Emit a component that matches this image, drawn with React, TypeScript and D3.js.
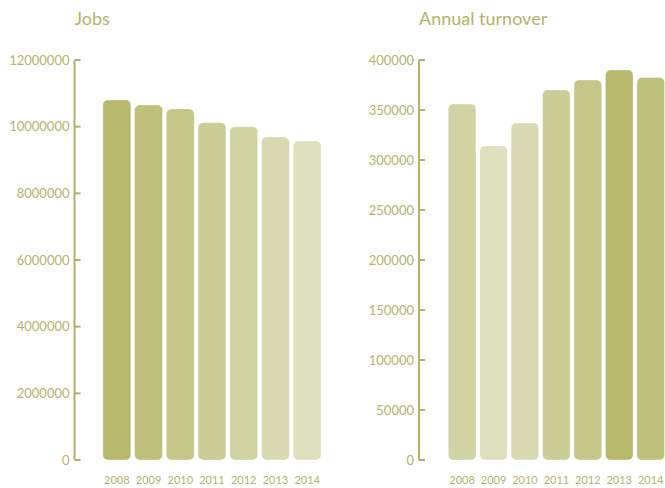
import React from "react";
import * as d3 from "d3";

const years = ["2008", "2009", "2010", "2011", "2012", "2013", "2014"];
const jobs = [10800000, 10650000, 10530000, 10120000, 10000000, 9690000, 9570000];
const turnover = [356000, 314000, 337000, 370000, 380000, 390000, 382500];
const jobsTicks = [0, 2000000, 4000000, 6000000, 8000000, 10000000, 12000000];
const turnoverTicks = [0, 50000, 100000, 150000, 200000, 250000, 300000, 350000, 400000];

const DARK = "#b8b96d";
const LIGHT = "#dfe0be";
const TEXT = "#b4b46a";
const AXIS = "#b3b367";
const FONT = "Lato, 'Open Sans', sans-serif";

type PanelProps = {
  title: string;
  values: number[];
  ticks: number[];
  max: number;
  axisX: number;
  bandRange: [number, number];
};

function Panel({ title, values, ticks, max, axisX, bandRange }: PanelProps) {
  const y = d3.scaleLinear().domain([0, max]).range([460, 60]);
  const x = d3.scaleBand<string>().domain(years).range(bandRange).paddingInner(0.12).paddingOuter(0.06);
  const sorted = [...values].sort((a, b) => d3.descending(a, b));
  const interp = d3.interpolateRgb(DARK, LIGHT);
  const color = (v: number) => interp(sorted.indexOf(v) / (values.length - 1));
  return (
    <g>
      <text x={axisX} y={25} fill={TEXT} fontSize={18} fontFamily={FONT}>
        {title}
      </text>
      <line x1={axisX} x2={axisX} y1={y(max)} y2={y(0)} stroke={AXIS} strokeWidth={2} />
      {ticks.map((t) => (
        <g key={t}>
          <line x1={axisX} x2={axisX + 6} y1={y(t)} y2={y(t)} stroke={AXIS} strokeWidth={2} />
          <text x={axisX - 5} y={y(t)} dy="0.36em" textAnchor="end" fill={TEXT} fontSize={13} fontFamily={FONT}>
            {t}
          </text>
        </g>
      ))}
      {values.map((v, i) => (
        <rect
          key={years[i]}
          x={x(years[i])}
          y={y(v)}
          width={x.bandwidth()}
          height={y(0) - y(v)}
          rx={5}
          ry={5}
          fill={color(v)}
          stroke="rgba(255,255,255,0.35)"
          strokeWidth={1}
        />
      ))}
      {years.map((yr) => (
        <text
          key={yr}
          x={(x(yr) as number) + x.bandwidth() / 2}
          y={484}
          textAnchor="middle"
          fill={TEXT}
          fontSize={11}
          fontFamily={FONT}
        >
          {yr}
        </text>
      ))}
    </g>
  );
}

export default function App() {
  return (
    <svg width={665} height={488} style={{ position: "absolute", left: 0, top: 0, background: "#fff" }}>
      <Panel title="Jobs" values={jobs} ticks={jobsTicks} max={12000000} axisX={74.5} bandRange={[101, 323]} />
      <Panel
        title="Annual turnover"
        values={turnover}
        ticks={turnoverTicks}
        max={400000}
        axisX={419}
        bandRange={[446.4, 666.4]}
      />
    </svg>
  );
}
